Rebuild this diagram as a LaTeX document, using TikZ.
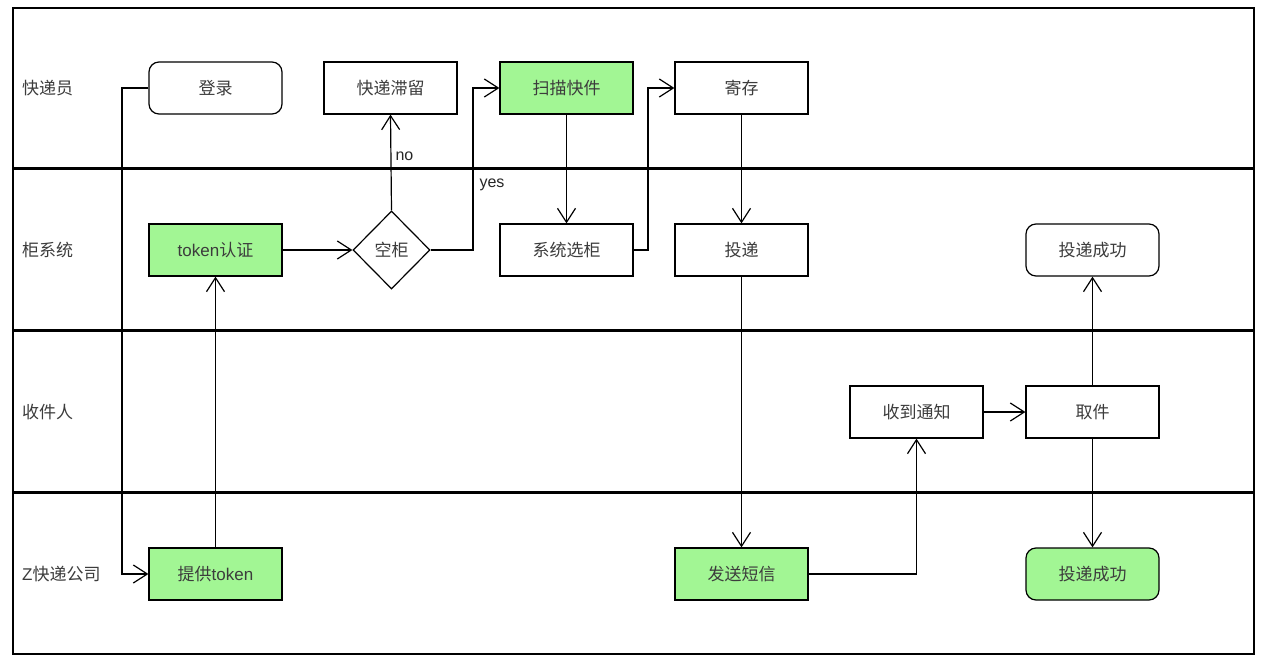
\documentclass[tikz,border=0pt]{standalone}
\usepackage{fontspec}
\setmainfont{Liberation Sans}
\newfontfamily\cjk{Noto Sans CJK SC}
\usetikzlibrary{shapes.geometric,arrows.meta}
\definecolor{boxgreen}{RGB}{162,246,148}
\definecolor{txt}{RGB}{60,60,60}
\tikzset{
  box/.style={draw=black, line width=1.2pt, minimum width=133pt, minimum height=52pt, inner sep=0pt, fill=white, text=txt, font=\fontsize{17}{20}\selectfont},
  gbox/.style={box, fill=boxgreen},
  rbox/.style={box, rounded corners=10pt},
  dbox/.style={draw=black, line width=1.2pt, diamond, minimum width=77pt, minimum height=78pt, inner sep=0pt, fill=white, text=txt, font=\fontsize{17}{20}\selectfont},
  lane/.style={anchor=west, text=txt, font=\fontsize{17}{20}\selectfont, inner sep=0pt},
  conn/.style={line width=1.2pt, -{Straight Barb[length=14pt,width=18pt,line width=1.2pt]}},
  plain/.style={line width=1.2pt},
  lbl/.style={text=black!85, font=\fontsize{16}{18}\selectfont, inner sep=0pt}
}
\begin{document}
\begin{tikzpicture}[x=1pt,y=-1pt]
\useasboundingbox (0,0) rectangle (1270,664);
\fill[white] (0,0) rectangle (1270,664);
% frame and lanes
\draw[line width=1.2pt] (13,8) rectangle (1254,654);
\draw[line width=3pt] (13,168) -- (1254,168);
\draw[line width=3pt] (13,330) -- (1254,330);
\draw[line width=3pt] (13,492) -- (1254,492);
\node[lane] (l1) at (22,88) {\cjk 快递员};
\node[lane] (l2) at (22,250) {\cjk 柜系统};
\node[lane] (l3) at (22,412) {\cjk 收件人};
\node[lane] (l4) at (22,574) {Z{\cjk 快递公司}};
% nodes
\node[rbox] (login) at (215.5,88) {\cjk 登录};
\node[box] (stay) at (390.5,88) {\cjk 快递滞留};
\node[gbox] (scan) at (566.5,88) {\cjk 扫描快件};
\node[box] (store) at (741.5,88) {\cjk 寄存};
\node[gbox] (auth) at (215.5,250) {token{\cjk 认证}};
\node[dbox] (empty) at (391.5,250) {\cjk 空柜};
\node[box] (choose) at (566.5,250) {\cjk 系统选柜};
\node[box] (deliver) at (741.5,250) {\cjk 投递};
\node[rbox] (ok1) at (1092.5,250) {\cjk 投递成功};
\node[box] (notice) at (916.5,412) {\cjk 收到通知};
\node[box] (pick) at (1092.5,412) {\cjk 取件};
\node[gbox] (token) at (215.5,574) {{\cjk 提供}token};
\node[gbox] (sms) at (741.5,574) {\cjk 发送短信};
\node[gbox, rounded corners=10pt] (ok2) at (1092.5,574) {\cjk 投递成功};
% connectors
\draw[conn] (login.west) -- (122,88) -- (122,574) -- (token.west);
\draw[conn] (token.north) -- (auth.south);
\draw[conn] (auth.east) -- (empty.west);
\draw[conn] (empty.north) -- node[lbl, pos=0.56, right=4pt] (no) {no} (stay.south);
\draw[conn] (empty.east) -- (473,250) -- (473,88) -- (scan.west);
\node[lbl] (yes) at (492,185) {yes};
\draw[conn] (scan.south) -- (choose.north);
\draw[conn] (choose.east) -- (648,250) -- (648,88) -- (store.west);
\draw[conn] (store.south) -- (deliver.north);
\draw[conn] (deliver.south) -- (sms.north);
\draw[conn] (sms.east) -- (916.5,574) -- (notice.south);
\draw[conn] (notice.east) -- (pick.west);
\draw[conn] (pick.north) -- (ok1.south);
\draw[conn] (pick.south) -- (ok2.north);
\end{tikzpicture}
\end{document}
